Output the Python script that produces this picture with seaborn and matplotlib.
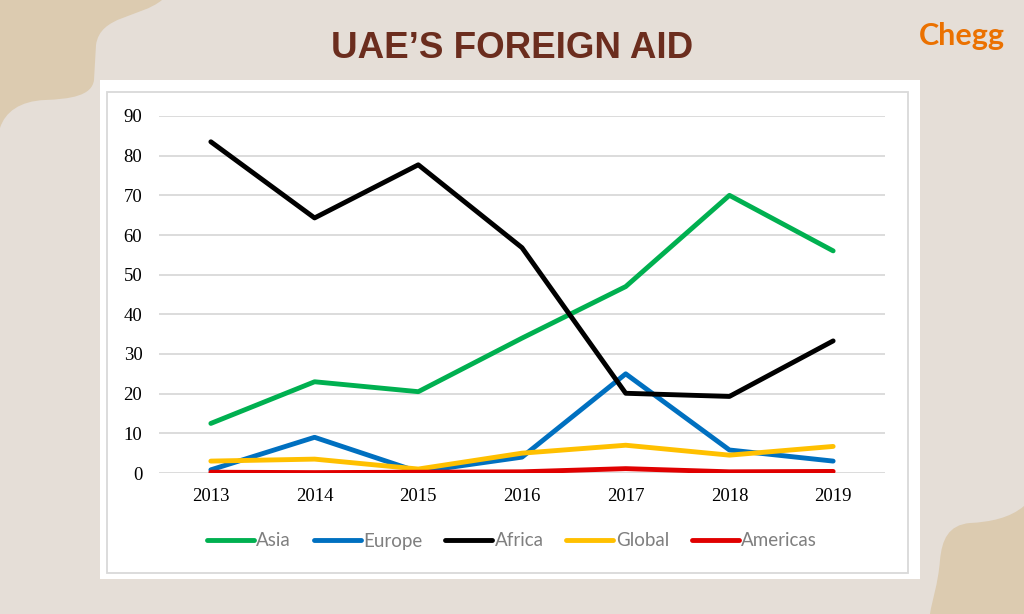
import pandas as pd
import matplotlib.pyplot as plt
import seaborn as sns
from matplotlib.path import Path
from matplotlib.patches import PathPatch, Rectangle

# UAE foreign aid by region
years = [2013, 2014, 2015, 2016, 2017, 2018, 2019]
regions = ["Asia", "Europe", "Africa", "Global", "Americas"]
asia = [12.5, 23.0, 20.5, 34.0, 47.0, 70.0, 56.0]
europe = [0.8, 9.0, 0.3, 4.0, 25.0, 5.8, 3.0]
africa = [83.5, 64.3, 77.7, 56.8, 20.1, 19.3, 33.3]
global_aid = [3.0, 3.5, 1.0, 5.0, 7.0, 4.5, 6.7]
americas = [0.2, 0.1, 0.2, 0.3, 1.1, 0.3, 0.4]
yticks = [0, 10, 20, 30, 40, 50, 60, 70, 80, 90]

colors = ["#00b050", "#0070c0", "#000000", "#ffc000", "#e00000"]
BG = "#e5ded7"
BLOB = "#dccbb0"


def build_frame():
    series = [asia, europe, africa, global_aid, americas]
    rows = []
    for name, vals in zip(regions, series):
        for yr, v in zip(years, vals):
            rows.append({"Year": yr, "Region": name, "Value": v})
    return pd.DataFrame(rows)


def draw_background(fig):
    bg = fig.add_axes([0, 0, 1, 1], zorder=0)
    bg.set_xlim(0, 1024)
    bg.set_ylim(614, 0)
    bg.axis("off")
    # top-left blob
    tl = Path(
        [(0, 0), (162, 0),
         (140, 18), (100, 15), (96, 45),
         (94, 80),
         (92, 96), (70, 99), (45, 100),
         (20, 101), (5, 112), (0, 128),
         (0, 0)],
        [Path.MOVETO, Path.LINETO,
         Path.CURVE4, Path.CURVE4, Path.CURVE4,
         Path.LINETO,
         Path.CURVE4, Path.CURVE4, Path.CURVE4,
         Path.CURVE4, Path.CURVE4, Path.CURVE4,
         Path.CLOSEPOLY])
    bg.add_patch(PathPatch(tl, fc=BLOB, ec="none"))
    # bottom-right blob
    br = Path(
        [(1024, 506),
         (1010, 518), (990, 522), (970, 523),
         (948, 525), (942, 540), (940, 560),
         (938, 585), (932, 600), (930, 614),
         (1024, 614), (1024, 506)],
        [Path.MOVETO,
         Path.CURVE4, Path.CURVE4, Path.CURVE4,
         Path.CURVE4, Path.CURVE4, Path.CURVE4,
         Path.CURVE4, Path.CURVE4, Path.CURVE4,
         Path.LINETO, Path.CLOSEPOLY])
    bg.add_patch(PathPatch(br, fc=BLOB, ec="none"))
    # white card with thin grey frame
    bg.add_patch(Rectangle((100, 80), 820, 499, fc="white", ec="none"))
    bg.add_patch(Rectangle((107, 92), 801, 481, fc="none", ec="#d9d9d9", lw=1.3))
    bg.text(512, 48, "UAE\u2019S FOREIGN AID", ha="center", va="center",
            fontsize=26.5, fontweight="bold", color="#6b2d1e",
            family="Liberation Sans")
    bg.text(962, 36, "Chegg", ha="center", va="center", fontsize=22,
            fontweight="bold", color="#eb7100", family="Lato")


def create_chart(df):
    sns.set_style("white")
    plt.rcParams["font.family"] = ["Liberation Serif", "DejaVu Serif"]
    fig = plt.figure(figsize=(10.24, 6.14), dpi=100)
    fig.patch.set_facecolor(BG)
    draw_background(fig)

    ax = fig.add_axes([159 / 1024, 1 - 473 / 614, 726 / 1024, 357 / 614], zorder=1)
    ax.patch.set_alpha(0)
    sns.lineplot(data=df, x="Year", y="Value", hue="Region", hue_order=regions,
                 palette=colors, linewidth=3.5, ax=ax, legend=False,
                 solid_capstyle="round", solid_joinstyle="round")
    ax.set_xlim(years[0] - 0.5, years[-1] + 0.5)
    ax.set_ylim(yticks[0], yticks[-1])
    ax.set_xticks(years)
    ax.set_xticklabels([str(y) for y in years])
    ax.set_yticks(yticks)
    ax.tick_params(axis="both", length=0, labelsize=13.5, colors="black")
    ax.tick_params(axis="x", pad=11)
    ax.tick_params(axis="y", pad=12)
    ax.yaxis.grid(True, color="#d9d9d9", lw=1.3)
    ax.set_axisbelow(True)
    for s in ax.spines.values():
        s.set_visible(False)
    ax.set_xlabel("")
    ax.set_ylabel("")

    handles = [plt.Line2D([], [], color=c, lw=3.5, solid_capstyle="round") for c in colors]
    leg = fig.legend(handles, regions, loc="center", bbox_to_anchor=(0.5, 1 - 541 / 614),
                     ncol=5, frameon=False, handlelength=2.5, handletextpad=0.15,
                     columnspacing=1.2, prop={"family": "Lato", "size": 13.5})
    for t in leg.get_texts():
        t.set_color("#7f7f7f")

    fig.savefig("out.png", dpi=100, facecolor=fig.get_facecolor())


if __name__ == "__main__":
    df = build_frame()
    create_chart(df)
